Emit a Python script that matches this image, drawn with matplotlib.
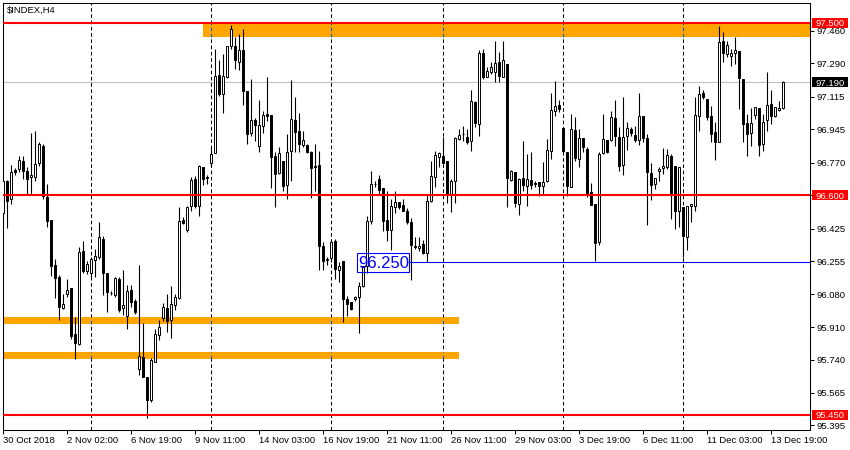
import matplotlib
matplotlib.use("Agg")
import matplotlib.pyplot as plt
from matplotlib.patches import Rectangle
from matplotlib.transforms import blended_transform_factory

plt.rcParams['font.family'] = ['Liberation Sans', 'DejaVu Sans']

# $INDEX H4 bars
opens = [96.504, 96.675, 96.580, 96.730, 96.737, 96.777, 96.728, 96.693, 96.696, 96.766,
         96.859, 96.588, 96.471, 96.236, 96.173, 96.012, 96.085, 96.112, 95.873, 95.820,
         96.309, 96.201, 96.195, 96.260, 96.274, 96.370, 96.192, 96.089, 96.077, 96.161,
         96.007, 95.969, 96.103, 96.044, 95.693, 95.754, 95.649, 95.527, 95.728, 95.868,
         95.957, 96.012, 95.946, 96.025, 96.061, 96.471, 96.419, 96.541, 96.684, 96.541,
         96.745, 96.691, 96.766, 96.820, 97.230, 97.129, 97.216, 97.379, 97.379, 97.295,
         97.356, 97.143, 96.923, 96.995, 96.855, 96.960, 97.025, 97.021, 96.806, 96.714,
         96.780, 96.653, 96.832, 96.993, 96.937, 96.864, 96.864, 96.827, 96.754, 96.759,
         96.335, 96.264, 96.271, 96.361, 96.208, 96.253, 96.056, 96.042, 96.056, 96.068,
         96.126, 96.230, 96.466, 96.658, 96.684, 96.637, 96.471, 96.419, 96.536, 96.562,
         96.548, 96.518, 96.457, 96.331, 96.321, 96.344, 96.297, 96.571, 96.693, 96.797,
         96.803, 96.776, 96.606, 96.675, 96.894, 96.920, 96.902, 96.881, 97.085, 96.972,
         97.344, 97.216, 97.242, 97.242, 97.298, 97.220, 97.286, 96.679, 96.723, 96.553,
         96.690, 96.646, 96.679, 96.665, 96.670, 96.646, 96.672, 96.832, 97.042, 97.073,
         96.951, 96.827, 96.640, 96.942, 96.789, 96.899, 96.841, 96.614, 96.553, 96.352,
         96.818, 96.889, 96.890, 97.004, 96.906, 96.758, 96.907, 96.946, 96.915, 96.890,
         97.016, 96.899, 96.716, 96.658, 96.724, 96.740, 96.745, 96.806, 96.750, 96.518,
         96.536, 96.379, 96.541, 96.541, 97.012, 97.132, 97.103, 97.016, 96.928, 96.876,
         97.408, 97.339, 97.325, 97.344, 97.351, 97.208, 96.977, 96.925, 97.021, 97.056,
         96.868, 96.990, 97.077, 97.012, 97.046, 97.056]

highs = [96.680, 96.681, 96.758, 96.740, 96.804, 96.806, 96.749, 96.927, 96.937, 96.876,
         96.868, 96.660, 96.471, 96.265, 96.183, 96.082, 96.161, 96.115, 95.960, 96.326,
         96.361, 96.257, 96.278, 96.318, 96.457, 96.387, 96.192, 96.099, 96.173, 96.169,
         96.209, 96.129, 96.129, 96.056, 96.236, 95.930, 95.649, 95.747, 95.899, 95.948,
         96.035, 96.082, 96.122, 96.085, 96.539, 96.483, 96.544, 96.693, 96.702, 96.759,
         96.745, 96.707, 96.850, 97.365, 97.304, 97.339, 97.377, 97.487, 97.426, 97.443,
         97.466, 97.143, 97.208, 97.005, 97.099, 97.042, 97.220, 97.021, 96.824, 96.850,
         96.780, 96.920, 97.203, 97.112, 97.028, 96.937, 96.869, 96.832, 96.868, 96.829,
         96.352, 96.278, 96.370, 96.370, 96.251, 96.253, 96.073, 96.042, 96.073, 96.143,
         96.230, 96.492, 96.728, 96.675, 96.707, 96.637, 96.623, 96.580, 96.623, 96.562,
         96.580, 96.530, 96.478, 96.379, 96.379, 96.367, 96.602, 96.780, 96.829, 96.824,
         96.902, 96.776, 96.684, 96.902, 96.946, 96.963, 96.946, 97.147, 97.094, 97.356,
         97.365, 97.269, 97.295, 97.408, 97.347, 97.408, 97.286, 96.731, 96.723, 96.687,
         96.885, 96.815, 96.824, 96.675, 96.670, 96.771, 96.894, 97.132, 97.199, 97.098,
         96.951, 96.827, 97.025, 97.007, 96.946, 96.899, 96.850, 96.663, 96.553, 96.824,
         97.025, 96.889, 97.042, 97.098, 96.954, 97.115, 96.981, 96.954, 96.963, 97.132,
         97.016, 96.920, 96.766, 96.690, 96.745, 96.845, 96.841, 96.815, 96.750, 96.749,
         96.536, 96.545, 96.553, 97.112, 97.169, 97.147, 97.103, 97.068, 96.981, 97.482,
         97.452, 97.408, 97.365, 97.426, 97.351, 97.208, 97.025, 97.056, 97.063, 97.056,
         97.025, 97.246, 97.150, 97.059, 97.094, 97.194]

lows = [96.426, 96.429, 96.551, 96.707, 96.719, 96.686, 96.607, 96.605, 96.675, 96.754,
        96.580, 96.431, 96.178, 96.064, 95.948, 96.002, 96.068, 95.847, 95.742, 95.817,
        96.195, 96.187, 96.173, 96.174, 96.265, 96.077, 95.991, 96.076, 96.068, 95.990,
        95.972, 95.902, 96.017, 95.977, 95.658, 95.646, 95.433, 95.520, 95.728, 95.841,
        95.939, 95.885, 95.850, 96.000, 96.059, 96.449, 96.408, 96.515, 96.530, 96.488,
        96.654, 96.658, 96.745, 96.820, 97.120, 97.028, 97.213, 97.365, 97.260, 97.255,
        97.073, 96.868, 96.907, 96.885, 96.827, 96.925, 96.986, 96.637, 96.536, 96.710,
        96.619, 96.580, 96.675, 96.824, 96.824, 96.850, 96.819, 96.585, 96.623, 96.208,
        96.208, 96.236, 96.248, 96.161, 96.143, 95.934, 95.969, 96.000, 96.047, 95.878,
        96.117, 96.192, 96.449, 96.640, 96.606, 96.410, 96.361, 96.313, 96.504, 96.527,
        96.515, 96.449, 96.156, 96.318, 96.309, 96.292, 96.248, 96.562, 96.640, 96.745,
        96.763, 96.557, 96.509, 96.559, 96.890, 96.885, 96.868, 96.832, 96.958, 96.907,
        97.208, 97.216, 97.234, 97.190, 97.190, 97.216, 96.536, 96.675, 96.539, 96.496,
        96.623, 96.541, 96.632, 96.640, 96.597, 96.606, 96.667, 96.789, 97.012, 97.033,
        96.824, 96.597, 96.640, 96.780, 96.745, 96.824, 96.588, 96.548, 96.253, 96.340,
        96.815, 96.818, 96.885, 96.859, 96.724, 96.707, 96.838, 96.911, 96.876, 96.864,
        96.876, 96.443, 96.576, 96.632, 96.675, 96.710, 96.737, 96.475, 96.422, 96.431,
        96.274, 96.313, 96.457, 96.518, 96.937, 97.103, 96.993, 96.876, 96.784, 96.876,
        97.295, 97.321, 97.274, 97.286, 97.051, 96.876, 96.803, 96.859, 96.998, 96.806,
        96.829, 96.937, 96.972, 97.007, 97.038, 97.051]

closes = [96.675, 96.571, 96.723, 96.720, 96.784, 96.728, 96.686, 96.707, 96.763, 96.868,
          96.597, 96.463, 96.227, 96.164, 96.017, 96.031, 96.103, 95.864, 95.824, 96.302,
          96.204, 96.242, 96.265, 96.283, 96.379, 96.190, 96.091, 96.086, 96.166, 96.000,
          96.025, 96.096, 96.042, 95.986, 95.756, 95.649, 95.529, 95.737, 95.873, 95.911,
          96.017, 95.939, 96.030, 96.068, 96.466, 96.454, 96.536, 96.679, 96.541, 96.750,
          96.684, 96.690, 96.815, 97.225, 97.126, 97.225, 97.377, 97.466, 97.304, 97.361,
          97.143, 96.920, 96.990, 96.967, 96.969, 97.021, 97.012, 96.797, 96.710, 96.820,
          96.646, 96.824, 96.998, 96.932, 96.868, 96.890, 96.824, 96.740, 96.746, 96.335,
          96.253, 96.263, 96.356, 96.213, 96.230, 96.056, 96.030, 96.004, 96.068, 96.126,
          96.230, 96.466, 96.658, 96.657, 96.627, 96.462, 96.419, 96.545, 96.565, 96.536,
          96.518, 96.457, 96.339, 96.330, 96.335, 96.297, 96.571, 96.702, 96.812, 96.818,
          96.768, 96.606, 96.675, 96.897, 96.916, 96.919, 96.876, 97.094, 96.975, 97.342,
          97.216, 97.251, 97.272, 97.290, 97.225, 97.304, 96.690, 96.728, 96.557, 96.684,
          96.653, 96.684, 96.654, 96.658, 96.649, 96.667, 96.836, 97.046, 97.068, 97.051,
          96.829, 96.646, 96.946, 96.794, 96.897, 96.850, 96.606, 96.548, 96.349, 96.815,
          96.894, 96.824, 97.007, 96.907, 96.750, 96.906, 96.951, 96.923, 96.889, 97.016,
          96.899, 96.719, 96.653, 96.690, 96.738, 96.754, 96.810, 96.609, 96.515, 96.749,
          96.384, 96.545, 96.553, 97.019, 97.129, 97.115, 97.007, 96.920, 96.876, 97.403,
          97.344, 97.386, 97.342, 97.356, 97.213, 96.972, 96.920, 96.977, 97.063, 96.864,
          96.984, 97.072, 97.012, 97.059, 97.056, 97.190]

date_labels = ["30 Oct 2018", "2 Nov 02:00", "6 Nov 19:00", "9 Nov 11:00", "14 Nov 03:00",
               "16 Nov 19:00", "21 Nov 11:00", "26 Nov 11:00", "29 Nov 03:00", "3 Dec 19:00",
               "6 Dec 11:00", "11 Dec 03:00", "13 Dec 19:00"]
price_ticks = [97.460, 97.290, 97.115, 96.945, 96.770, 96.600, 96.425, 96.255,
               96.080, 95.910, 95.740, 95.565, 95.395]

# levels and zones drawn on the chart
red_levels = [97.500, 96.600, 95.450]
bid_price = 97.190
blue_level = 96.250
week_starts = [22, 52, 82, 110, 140, 170]
# (first bar, last bar, low price, high price)
zones = [(50, 210, 97.426, 97.500),
         (-2, 114, 95.928, 95.963),
         (-2, 114, 95.745, 95.780)]

fig = plt.figure(figsize=(8.5, 4.5), dpi=100)
ax = fig.add_axes([2.5 / 850, 1 - 429.5 / 450, 807.5 / 850, 427 / 450])
ax.set_xlim(-0.125, 201.75)
ax.set_ylim(95.374, 97.607)

dash = (0, (3.5, 2.5))

# week separators (under the zones)
for s in week_starts:
    ax.axvline(s, color='black', lw=0.75, linestyle=dash, zorder=0.5)

for x0, x1, y0, y1 in zones:
    ax.add_patch(Rectangle((x0, y0), x1 - x0, y1 - y0, facecolor='#ffa500',
                           edgecolor='none', zorder=1))
    # MT4 draws the separators inverted where they cross a background object
    for s in week_starts:
        if x0 < s < x1:
            ax.vlines(s, y0, y1, color='#005aff', lw=0.75, linestyle=dash, zorder=1.5)

ax.axhline(bid_price, color='#c0c0c0', lw=0.8, zorder=1.2)

# candles
n = len(opens)
bars = list(range(n))
ax.vlines(bars, lows, highs, color='black', lw=0.8, zorder=3)
bottoms = [min(o, c) for o, c in zip(opens, closes)]
heights = [max(abs(c - o), 0.002) for o, c in zip(opens, closes)]
fills = ['white' if c >= o else 'black' for o, c in zip(opens, closes)]
ax.bar(bars, heights, width=0.55, bottom=bottoms, color=fills,
       edgecolor='black', linewidth=0.7, zorder=4)

for lvl in red_levels:
    ax.axhline(lvl, color='#ff0000', lw=1.5, zorder=5)

# 96.250 level with its label
ax.hlines(blue_level, 101.5, 205, color='#0000ff', lw=0.8, zorder=5)
ax.add_patch(Rectangle((88.6, 96.199), 13.0, 0.097, facecolor='none',
                       edgecolor='#0000ff', lw=0.8, zorder=5))
ax.text(95.1, blue_level, "96.250", color='#0000ff', fontsize=12,
        ha='center', va='center_baseline', zorder=6)

# axes styling
for sp in ax.spines.values():
    sp.set_linewidth(0.75)
    sp.set_color('black')

ax.yaxis.tick_right()
ax.set_yticks(price_ticks, [f"{p:.3f}" for p in price_ticks])
ax.set_xticks(list(range(0, n, 16)), date_labels, ha='left')
ax.tick_params(axis='y', which='both', length=3, width=0.75, pad=2, labelsize=6.8,
               left=False, right=True)
ax.tick_params(axis='x', length=3, width=0.75, pad=1.5, labelsize=6.8)

# price boxes on the right scale
trans = blended_transform_factory(ax.transAxes, ax.transData)
box_h = 10 / 191.2
for price, fc in [(97.500, '#ff0000'), (96.600, '#ff0000'), (95.450, '#ff0000'),
                  (bid_price, 'black')]:
    ax.add_patch(Rectangle((1.0025, price - box_h / 2), 0.0445, box_h, transform=trans,
                           facecolor=fc, edgecolor='none', clip_on=False, zorder=7))
    ax.text(1.0065, price, f"{price:.3f}", transform=trans, color='white', fontsize=6.8,
            ha='left', va='center_baseline', clip_on=False, zorder=8)

fig.text(7 / 850, 1 - 10.7 / 450, "$INDEX,H4", fontsize=6.8, va='center', ha='left')

fig.savefig('out.png', dpi=100)
